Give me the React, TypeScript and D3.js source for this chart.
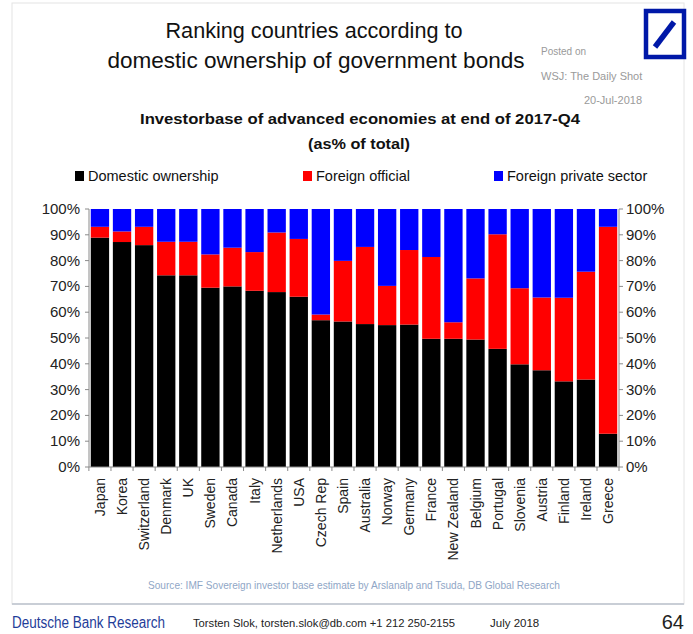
import React from "react";
import * as d3 from "d3";

const countries = ["Japan","Korea","Switzerland","Denmark","UK","Sweden","Canada","Italy","Netherlands","USA","Czech Rep","Spain","Australia","Norway","Germany","France","New Zealand","Belgium","Portugal","Slovenia","Austria","Finland","Ireland","Greece"];
const domestic = [88.9,87.2,86.0,74.3,74.3,69.5,70.0,68.3,67.8,66.0,56.9,56.4,55.4,55.0,55.2,49.7,49.7,49.4,45.8,39.8,37.5,33.2,33.9,12.9];
const foreignOfficial = [4.2,4.1,7.1,13.0,13.0,12.9,15.0,15.0,23.1,22.4,2.2,23.5,29.9,15.2,28.9,31.7,6.4,23.7,44.4,29.5,28.2,32.4,41.8,80.2];
const foreignPrivate = countries.map((_, i) => +(100 - domestic[i] - foreignOfficial[i]).toFixed(1));
const yTicks = [0,10,20,30,40,50,60,70,80,90,100];
const seriesNames = ["Domestic ownership","Foreign official","Foreign private sector"];
const seriesColors = ["#000000","#ff0000","#0000ff"];

const FONT = "'Liberation Sans', Arial, sans-serif";

export default function App() {
  const W = 693, H = 634;
  const left = 89, right = 619, top = 209, bottom = 467;
  const x = d3.scaleBand<string>().domain(countries).range([left, right]).paddingInner(0.17).paddingOuter(0.08);
  const y = d3.scaleLinear().domain([0, 100]).range([bottom, top]);
  const rows = countries.map((c, i) => ({ c, d: domestic[i], o: foreignOfficial[i], p: foreignPrivate[i] }));
  const stack = d3.stack<any>().keys(["d", "o", "p"])(rows);
  const legendX = [75, 303, 494];

  return (
    <svg width={W} height={H} style={{ position: "absolute", left: 0, top: 0, background: "#fff" }} fontFamily={FONT}>
      <rect x={0} y={0} width={W} height={H} fill="#fff" />
      <rect x={12} y={3} width={672} height={601} fill="none" stroke="#e4e4e4" strokeWidth={1} />
      {/* Titles */}
      <text x={314} y={38} textAnchor="middle" fontSize={22} fill="#111" textLength={297} lengthAdjust="spacingAndGlyphs">Ranking countries according to</text>
      <text x={316} y={68} textAnchor="middle" fontSize={22} fill="#111" textLength={417} lengthAdjust="spacingAndGlyphs">domestic ownership of government bonds</text>
      <text x={541} y={55} fontSize={10} fill="#9a9a9a">Posted on</text>
      <text x={541} y={80} fontSize={11} fill="#9a9a9a">WSJ: The Daily Shot</text>
      <text x={642} y={104} textAnchor="end" fontSize={11} fill="#9a9a9a">20-Jul-2018</text>
      {/* Logo */}
      <rect x={646} y={11} width={38} height={46} fill="none" stroke="#0018a8" strokeWidth={4.5} />
      <line x1={655} y1={47} x2={674} y2={22} stroke="#0018a8" strokeWidth={5.5} />
      {/* Subtitle */}
      <text x={360} y={124} textAnchor="middle" fontSize={15} fontWeight="bold" fill="#111" textLength={440} lengthAdjust="spacingAndGlyphs">Investorbase of advanced economies at end of 2017-Q4</text>
      <text x={359} y={149} textAnchor="middle" fontSize={15} fontWeight="bold" fill="#111" textLength={102} lengthAdjust="spacingAndGlyphs">(as% of total)</text>
      {/* Legend */}
      {seriesNames.map((s, i) => (
        <g key={s}>
          <rect x={legendX[i]} y={171} width={9} height={10} fill={seriesColors[i]} />
          <text x={legendX[i] + 13} y={181} fontSize={14.5} fill="#111">{s}</text>
        </g>
      ))}
      {/* Bars */}
      {stack.map((layer, k) => (
        <g key={k} fill={seriesColors[k]}>
          {layer.map((seg, i) => (
            <rect key={i} x={x(countries[i])} y={y(seg[1])} width={x.bandwidth()} height={y(seg[0]) - y(seg[1])} />
          ))}
        </g>
      ))}
      {/* Axes */}
      <g stroke="#8a8a8a" strokeWidth={1}>
        <line x1={left} y1={top} x2={left} y2={bottom} />
        <line x1={right} y1={top} x2={right} y2={bottom} />
        <line x1={left} y1={bottom} x2={right} y2={bottom} />
        {yTicks.map(t => (
          <g key={t}>
            <line x1={left - 4} x2={left} y1={y(t)} y2={y(t)} />
            <line x1={right} x2={right + 4} y1={y(t)} y2={y(t)} />
          </g>
        ))}
        {countries.map((c, i) => {
          const bx = (x(c) as number) - (x.step() - x.bandwidth()) / 2;
          return <line key={c} x1={bx} x2={bx} y1={bottom} y2={bottom + 4} />;
        })}
        <line x1={right} x2={right} y1={bottom} y2={bottom + 4} />
      </g>
      {yTicks.map(t => (
        <g key={t} fontSize={15} fill="#222">
          <text x={80} y={y(t) + 5} textAnchor="end">{t}%</text>
          <text x={626} y={y(t) + 5}>{t}%</text>
        </g>
      ))}
      {countries.map(c => (
        <text key={c} transform={`translate(${(x(c) as number) + x.bandwidth() / 2 + 5},478) rotate(-90)`} textAnchor="end" fontSize={14} fill="#222">{c}</text>
      ))}
      {/* Source */}
      <text x={354} y={589} textAnchor="middle" fontSize={10.5} fill="#8fa6c6" textLength={412} lengthAdjust="spacingAndGlyphs">Source: IMF Sovereign investor base estimate by Arslanalp and Tsuda, DB Global Research</text>
      <line x1={12} x2={684} y1={604} y2={604} stroke="#c9ced6" strokeWidth={2} />
      {/* Footer */}
      <text x={12} y={628} fontSize={16} fill="#1f3d99" textLength={153} lengthAdjust="spacingAndGlyphs">Deutsche Bank Research</text>
      <text x={193} y={627} fontSize={11.5} fill="#222" textLength={262} lengthAdjust="spacingAndGlyphs">Torsten Slok, torsten.slok@db.com  +1 212 250-2155</text>
      <text x={490} y={627} fontSize={11.5} fill="#222">July 2018</text>
      <text x={684} y={629} textAnchor="end" fontSize={20} fill="#222">64</text>
    </svg>
  );
}
